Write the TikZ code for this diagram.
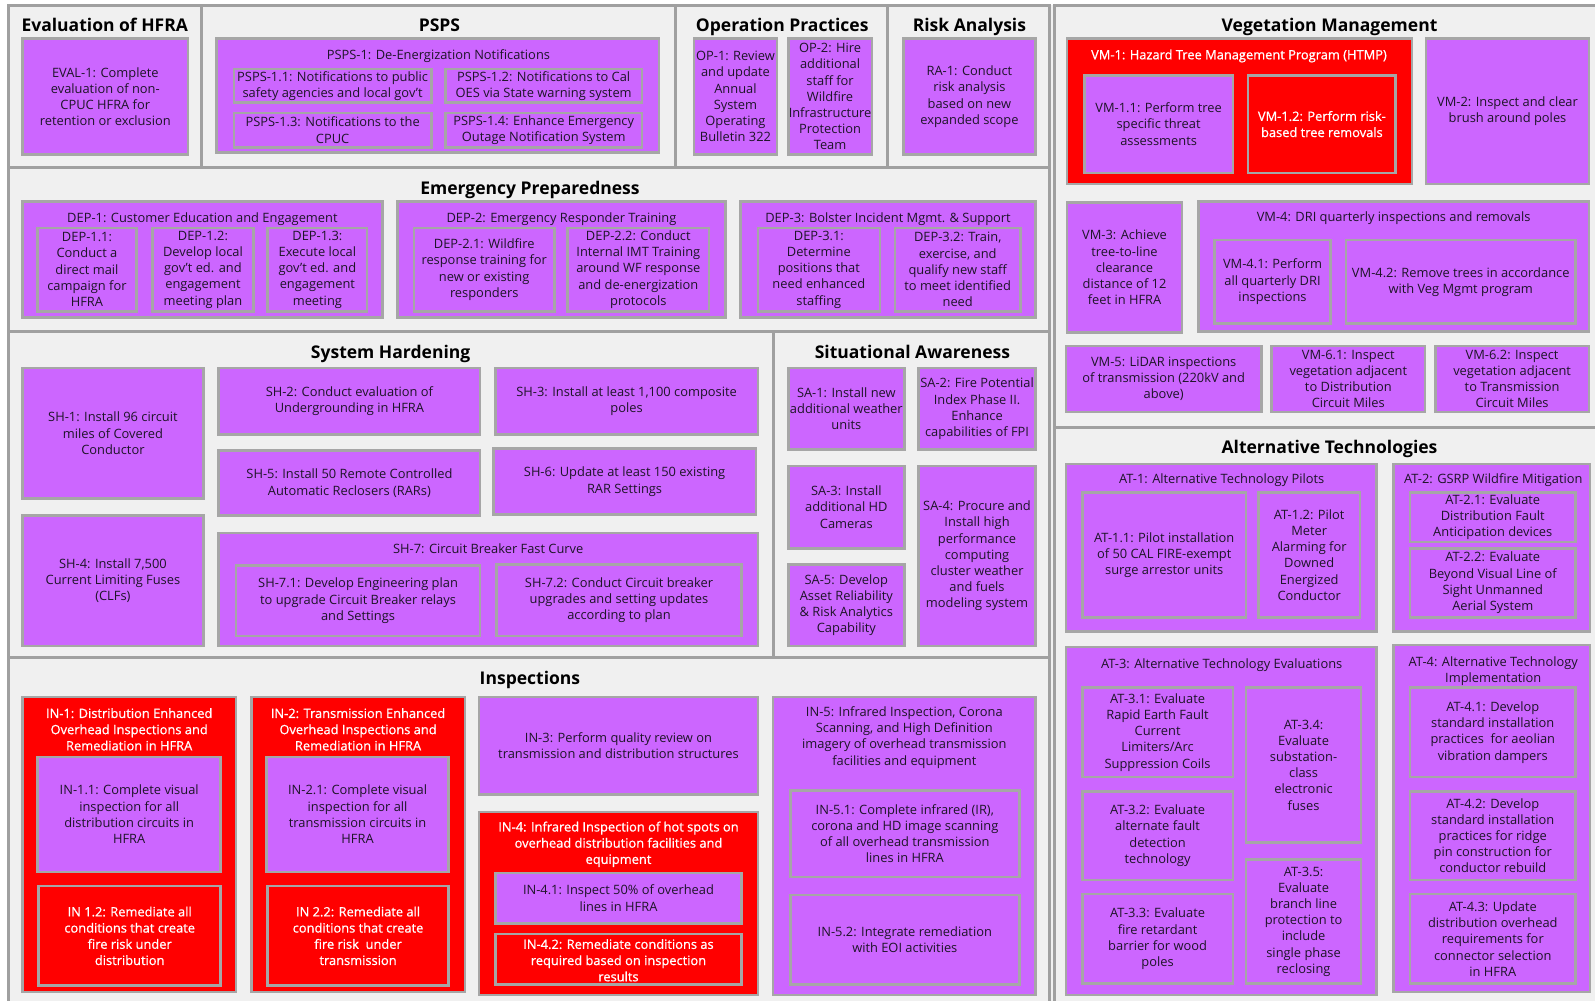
\documentclass[tikz,border=0pt]{standalone}
\usepackage{fontspec}
\setmainfont{Open Sans}
\newfontfamily\wfont[FakeBold=0.8]{Open Sans}
\usetikzlibrary{fit}
\definecolor{purp}{RGB}{204,102,255}
\definecolor{redf}{RGB}{255,0,0}
\definecolor{bxg}{RGB}{166,166,166}
\definecolor{frg}{RGB}{160,160,160}
\definecolor{bgc}{RGB}{240,240,240}
\definecolor{txc}{RGB}{30,20,40}
\newcommand\bodyf{\fontsize{7.2}{9.07}\selectfont}
\newcommand\bodyw{\wfont\fontsize{7.2}{9.07}\selectfont}
\newcommand\titlef{\fontsize{9.8}{12}\selectfont\bfseries}
% purple / red box with centred text as a separate node
\newcommand\pb[3]{\node[pbox,fit={#2}] (#1) {}; \node[ptxt] (#1-t) at (#1.center) {#3};}
\newcommand\rb[3]{\node[rbox,fit={#2}] (#1) {}; \node[rtxt] (#1-t) at (#1.center) {#3};}
\begin{document}
\begin{tikzpicture}[x=0.02cm,y=-0.02cm,
 frame/.style={draw=frg,line width=1.7pt,fill=bgc},
 pbox/.style={draw=bxg,line width=1.4pt,fill=purp,inner sep=0pt},
 rbox/.style={pbox,fill=redf},
 ptxt/.style={inner sep=0pt,align=center,text=txc,font=\bodyf},
 rtxt/.style={ptxt,text=white,font=\bodyw},
 ttl/.style={inner sep=0pt,font=\titlef,text=black,anchor=base}]
\useasboundingbox (0,0) rectangle (1568,984);
\clip (0,0) rectangle (1568,984);
\fill[white] (0,0) rectangle (1568,984);
\fill[bgc] (8,5) rectangle (1580,995);
% frames
\draw[frame] (8,5) rectangle (198,165);
\draw[frame] (198,5) rectangle (664,165);
\draw[frame] (664,5) rectangle (872,165);
\draw[frame] (872,5) rectangle (1032,165);
\draw[frame] (8,165) rectangle (1032,326);
\draw[frame] (8,326) rectangle (760,646);
\draw[frame] (760,326) rectangle (1032,646);
\draw[frame] (8,646) rectangle (1032,995);
\draw[frame] (1037,5) rectangle (1580,420);
\draw[frame] (1037,420) rectangle (1580,995);
% titles (baseline positions)
\node[ttl] (t-eval) at (103,31) {Evaluation of HFRA};
\node[ttl] (t-psps) at (432,31) {PSPS};
\node[ttl] (t-op) at (769,31) {Operation Practices};
\node[ttl] (t-ra) at (953,31) {Risk Analysis};
\node[ttl] (t-ep) at (521,191) {Emergency Preparedness};
\node[ttl] (t-sh) at (384,352) {System Hardening};
\node[ttl] (t-sa) at (897,352) {Situational Awareness};
\node[ttl] (t-in) at (521,673) {Inspections};
\node[ttl] (t-vm) at (1307,31) {Vegetation Management};
\node[ttl] (t-at) at (1307,446) {Alternative Technologies};
% Evaluation
\pb{eval1}{(22,38) (185,152)}{EVAL-1: Complete\\evaluation of non-\\CPUC HFRA for\\retention or exclusion}
% PSPS
\node[pbox,fit={(213,38) (648,150)}] (psps1) {};
\node[ptxt] (psps1-l) at (431,55) {PSPS-1: De-Energization Notifications};
\pb{psps11}{(230,68) (424,101)}{PSPS-1.1: Notifications to public\\safety agencies and local gov’t}
\pb{psps12}{(438,68) (631,101)}{PSPS-1.2: Notifications to Cal\\OES via State warning system}
\pb{psps13}{(230,111) (424,145)}{PSPS-1.3: Notifications to the\\CPUC}
\pb{psps14}{(438,111) (631,145)}{PSPS-1.4: Enhance Emergency\\Outage Notification System}
% OP
\pb{op1}{(682,38) (764,152)}{OP-1: Review\\and update\\Annual\\System\\Operating\\Bulletin 322}
\pb{op2}{(775,38) (857,152)}{OP-2: Hire\\additional\\staff for\\Wildfire\\Infrastructure\\Protection\\Team}
% RA
\pb{ra1}{(888,38) (1018,152)}{RA-1: Conduct\\risk analysis\\based on new\\expanded scope}
% DEP
\node[pbox,fit={(22,198) (376,312)}] (dep1) {};
\node[ptxt] (dep1-l) at (199,215) {DEP-1: Customer Education and Engagement};
\pb{dep11}{(37,224) (134,306)}{DEP-1.1:\\Conduct a\\direct mail\\campaign for\\HFRA}
\pb{dep12}{(150,224) (249,306)}{DEP-1.2:\\Develop local\\gov’t ed. and\\engagement\\meeting plan}
\pb{dep13}{(263,224) (361,306)}{DEP-1.3:\\Execute local\\gov’t ed. and\\engagement\\meeting}
\node[pbox,fit={(391,198) (713,312)}] (dep2) {};
\node[ptxt] (dep2-l) at (552,215) {DEP-2: Emergency Responder Training};
\pb{dep21}{(407,224) (545,306)}{DEP-2.1: Wildfire\\response training for\\new or existing\\responders}
\pb{dep22}{(558,224) (697,306)}{DEP-2.2: Conduct\\Internal IMT Training\\around WF response\\and de-energization\\protocols}
\node[pbox,fit={(728,198) (1018,312)}] (dep3) {};
\node[ptxt] (dep3-l) at (873,215) {DEP-3: Bolster Incident Mgmt. \& Support};
\pb{dep31}{(745,224) (865,306)}{DEP-3.1:\\Determine\\positions that\\need enhanced\\staffing}
\pb{dep32}{(880,224) (1003,306)}{DEP-3.2: Train,\\exercise, and\\qualify new staff\\to meet identified\\need}
% SH
\pb{sh1}{(22,362) (200,490)}{SH-1: Install 96 circuit\\miles of Covered\\Conductor}
\pb{sh4}{(22,507) (200,635)}{SH-4: Install 7,500\\Current Limiting Fuses\\(CLFs)}
\pb{sh2}{(215,362) (472,427)}{SH-2: Conduct evaluation of\\Undergrounding in HFRA}
\pb{sh3}{(487,362) (745,427)}{SH-3: Install at least 1,100 composite\\poles}
\pb{sh5}{(215,443) (472,507)}{SH-5: Install 50 Remote Controlled\\Automatic Reclosers (RARs)}
\pb{sh6}{(485,441) (743,506)}{SH-6: Update at least 150 existing\\RAR Settings}
\node[pbox,fit={(215,524) (745,635)}] (sh7) {};
\node[ptxt] (sh7-l) at (480,539) {SH-7: Circuit Breaker Fast Curve};
\pb{sh71}{(232,556) (472,625)}{SH-7.1: Develop Engineering plan\\to upgrade Circuit Breaker relays\\and Settings}
\pb{sh72}{(488,555) (729,625)}{SH-7.2: Conduct Circuit breaker\\upgrades and setting updates\\according to plan}
% SA
\pb{sa1}{(775,362) (889,442)}{SA-1: Install new\\additional weather\\units}
\pb{sa2}{(903,362) (1018,442)}{SA-2: Fire Potential\\Index Phase II.\\Enhance\\capabilities of FPI}
\pb{sa3}{(775,458) (889,539)}{SA-3: Install\\additional HD\\Cameras}
\pb{sa4}{(903,458) (1018,635)}{SA-4: Procure and\\Install high\\performance\\computing\\cluster weather\\and fuels\\modeling system}
\pb{sa5}{(775,555) (889,635)}{SA-5: Develop\\Asset Reliability\\\& Risk Analytics\\Capability}
% IN
\node[rbox,fit={(22,685) (232,975)}] (in1) {};
\node[rtxt] (in1-l) at (127,717) {IN-1: Distribution Enhanced\\Overhead Inspections and\\Remediation in HFRA};
\pb{in11}{(37,744) (217,857)}{IN-1.1: Complete visual\\inspection for all\\distribution circuits in\\HFRA}
\rb{in12}{(38,871) (217,969)}{IN 1.2: Remediate all\\conditions that create\\fire risk under\\distribution}
\node[rbox,fit={(247,685) (457,975)}] (in2) {};
\node[rtxt] (in2-l) at (352,717) {IN-2: Transmission Enhanced\\Overhead Inspections and\\Remediation in HFRA};
\pb{in21}{(262,744) (441,857)}{IN-2.1: Complete visual\\inspection for all\\transmission circuits in\\HFRA}
\rb{in22}{(263,871) (441,969)}{IN 2.2: Remediate all\\conditions that create\\fire risk\ \ under\\transmission}
\pb{in3}{(471,685) (745,781)}{IN-3: Perform quality review on\\transmission and distribution structures}
\node[rbox,fit={(471,798) (745,978)}] (in4) {};
\node[rtxt] (in4-l) at (608,830) {IN-4: Infrared Inspection of hot spots on\\overhead distribution facilities and\\equipment};
\pb{in41}{(487,858) (729,908)}{IN-4.1: Inspect 50\% of overhead\\lines in HFRA}
\node[rbox,fit={(487,918) (729,968)}] (in42) {};
\node[rtxt] (in42-t) at (608,944) {IN-4.2: Remediate conditions as\\required based on inspection\\results};
\node[pbox,fit={(760,685) (1018,978)}] (in5) {};
\node[ptxt] (in5-l) at (889,725) {IN-5: Infrared Inspection, Corona\\Scanning, and High Definition\\imagery of overhead transmission\\facilities and equipment};
\pb{in51}{(777,777) (1002,862)}{IN-5.1: Complete infrared (IR),\\corona and HD image scanning\\of all overhead transmission\\lines in HFRA}
\pb{in52}{(777,880) (1002,968)}{IN-5.2: Integrate remediation\\with EOI activities}
% VM
\node[rbox,fit={(1049,38) (1388,181)}] (vm1) {};
\node[rtxt] (vm1-l) at (1218,55) {VM-1: Hazard Tree Management Program (HTMP)};
\pb{vm11}{(1066,74) (1212,170)}{VM-1.1: Perform tree\\specific threat\\assessments}
\rb{vm12}{(1227,74) (1372,170)}{VM-1.2: Perform risk-\\based tree removals}
\pb{vm2}{(1402,38) (1562,181)}{VM-2: Inspect and clear\\brush around poles}
\pb{vm3}{(1049,199) (1162,327)}{VM-3: Achieve\\tree-to-line\\clearance\\distance of 12\\feet in HFRA}
\node[pbox,fit={(1178,198) (1562,326)}] (vm4) {};
\node[ptxt] (vm4-l) at (1370,214) {VM-4: DRI quarterly inspections and removals};
\pb{vm41}{(1194,236) (1308,318)}{VM-4.1: Perform\\all quarterly DRI\\inspections}
\pb{vm42}{(1323,236) (1549,318)}{VM-4.2: Remove trees in accordance\\with Veg Mgmt program}
\pb{vm5}{(1048,340) (1240,405)}{VM-5: LiDAR inspections\\of transmission (220kV and\\above)}
\pb{vm61}{(1250,340) (1401,405)}{VM-6.1: Inspect\\vegetation adjacent\\to Distribution\\Circuit Miles}
\pb{vm62}{(1411,340) (1562,405)}{VM-6.2: Inspect\\vegetation adjacent\\to Transmission\\Circuit Miles}
% AT
\node[pbox,fit={(1048,456) (1353,621)}] (at1) {};
\node[ptxt] (at1-l) at (1201,472) {AT-1: Alternative Technology Pilots};
\pb{at11}{(1064,484) (1225,607)}{AT-1.1: Pilot installation\\of 50 CAL FIRE-exempt\\surge arrestor units}
\pb{at12}{(1237,484) (1337,607)}{AT-1.2: Pilot\\Meter\\Alarming for\\Downed\\Energized\\Conductor}
\node[pbox,fit={(1370,456) (1563,621)}] (at2) {};
\node[ptxt] (at2-l) at (1468,472) {AT-2: GSRP Wildfire Mitigation};
\pb{at21}{(1386,484) (1549,533)}{AT-2.1: Evaluate\\Distribution Fault\\Anticipation devices}
\pb{at22}{(1386,539) (1549,607)}{AT-2.2: Evaluate\\Beyond Visual Line of\\Sight Unmanned\\Aerial System}
\node[pbox,fit={(1048,636) (1353,978)}] (at3) {};
\node[ptxt] (at3-l) at (1201,654) {AT-3: Alternative Technology Evaluations};
\pb{at31}{(1064,676) (1212,764)}{AT-3.1: Evaluate\\Rapid Earth Fault\\Current\\Limiters/Arc\\Suppression Coils}
\pb{at32}{(1064,778) (1212,865)}{AT-3.2: Evaluate\\alternate fault\\detection\\technology}
\pb{at33}{(1064,879) (1212,967)}{AT-3.3: Evaluate\\fire retardant\\barrier for wood\\poles}
\pb{at34}{(1225,676) (1338,828)}{AT-3.4:\\Evaluate\\substation-\\class\\electronic\\fuses}
\pb{at35}{(1225,845) (1338,967)}{AT-3.5:\\Evaluate\\branch line\\protection to\\include\\single phase\\reclosing}
\node[pbox,fit={(1370,634) (1563,975)}] (at4) {};
\node[ptxt] (at4-l) at (1468,660) {AT-4: Alternative Technology\\Implementation};
\pb{at41}{(1386,676) (1549,764)}{AT-4.1: Develop\\standard installation\\practices\ \ for aeolian\\vibration dampers}
\pb{at42}{(1386,778) (1549,865)}{AT-4.2: Develop\\standard installation\\practices for ridge\\pin construction for\\conductor rebuild}
\pb{at43}{(1386,879) (1549,967)}{AT-4.3: Update\\distribution overhead\\requirements for\\connector selection\\in HFRA}
\end{tikzpicture}
\end{document}
